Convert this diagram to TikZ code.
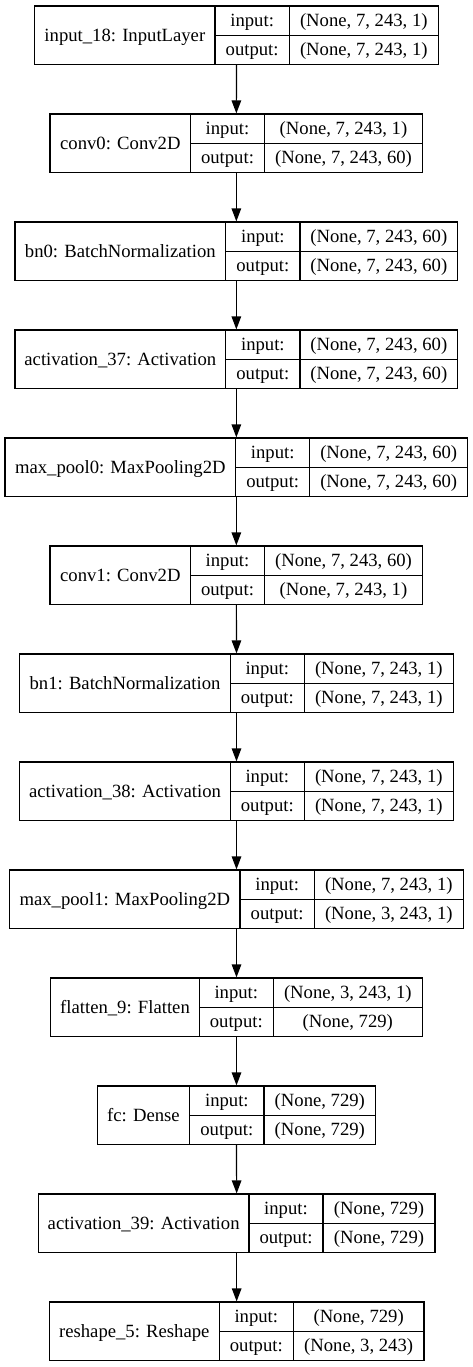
\documentclass[tikz,border=0pt]{standalone}
\usepackage{fontspec}
\setmainfont{Liberation Serif}
\usetikzlibrary{arrows.meta}
\tikzset{
  boxframe/.style={draw=black, line width=1.2pt, rectangle, inner sep=0pt},
  divider/.style={draw=black, line width=1.2pt},
  txt/.style={anchor=base, inner sep=0pt, font=\fontsize{18.67}{22}\selectfont},
  flow/.style={draw=black, line width=1.2pt, -{Triangle[length=13pt,width=9.5pt]}}
}
\newcommand{\bh}{58.5}
% #1 name, #2 top, #3 left, #4 d1, #5 d2, #6 right, #7 label, #8 input, #9 output
\newcommand{\layer}[9]{%
  \pgfmathsetmacro{\bw}{#6-#3}%
  \pgfmathsetmacro{\bx}{(#6+#3)/2}%
  \pgfmathsetmacro{\by}{#2+\bh/2}%
  \pgfmathsetmacro{\bb}{#2+\bh}%
  \node[boxframe, minimum width=\bw pt, minimum height=\bh pt] (#1) at (\bx,\by) {};
  \draw[divider] (#4,#2) -- (#4,\bb);
  \draw[divider] (#5,#2) -- (#5,\bb);
  \draw[divider] (#4,\by) -- (#6,\by);
  \node[txt] (#1-l) at ({(#3+#4)/2},{\by+6.5}) {#7};
  \node[txt] (#1-i) at ({(#4+#5)/2},{#2+\bh/4+6}) {input:};
  \node[txt] (#1-iv) at ({(#5+#6)/2},{#2+\bh/4+6}) {#8};
  \node[txt] (#1-o) at ({(#4+#5)/2},{#2+3*\bh/4+6}) {output:};
  \node[txt] (#1-ov) at ({(#5+#6)/2},{#2+3*\bh/4+6}) {#9};
}
\begin{document}
\begin{tikzpicture}[x=1pt,y=-1pt]
\useasboundingbox[fill=white] (0,0) rectangle (473,1367);
\layer{L1}{6}{34.7}{215}{289.3}{438.3}{input\_18: InputLayer}{(None, 7, 243, 1)}{(None, 7, 243, 1)}
\layer{L2}{114}{50}{190.7}{264.3}{422.7}{conv0: Conv2D}{(None, 7, 243, 1)}{(None, 7, 243, 60)}
\layer{L3}{222}{15}{225.7}{300}{457.7}{bn0: BatchNormalization}{(None, 7, 243, 60)}{(None, 7, 243, 60)}
\layer{L4}{330}{15}{225.7}{300}{457.7}{activation\_37: Activation}{(None, 7, 243, 60)}{(None, 7, 243, 60)}
\layer{L5}{438}{5}{235.7}{309.7}{467.7}{max\_pool0: MaxPooling2D}{(None, 7, 243, 60)}{(None, 7, 243, 60)}
\layer{L6}{546}{50}{190.7}{264.3}{422.7}{conv1: Conv2D}{(None, 7, 243, 60)}{(None, 7, 243, 1)}
\layer{L7}{654}{19.7}{230.3}{304.3}{453.3}{bn1: BatchNormalization}{(None, 7, 243, 1)}{(None, 7, 243, 1)}
\layer{L8}{762}{19.7}{230.3}{304.3}{453.3}{activation\_38: Activation}{(None, 7, 243, 1)}{(None, 7, 243, 1)}
\layer{L9}{870}{9.7}{240}{314.3}{463.3}{max\_pool1: MaxPooling2D}{(None, 7, 243, 1)}{(None, 3, 243, 1)}
\layer{L10}{978}{50.7}{199.3}{273.3}{422.3}{flatten\_9: Flatten}{(None, 3, 243, 1)}{(None, 729)}
\layer{L11}{1086}{97.3}{189.7}{264}{375.7}{fc: Dense}{(None, 729)}{(None, 729)}
\layer{L12}{1194}{38.3}{249}{323}{435}{activation\_39: Activation}{(None, 729)}{(None, 729)}
\layer{L13}{1302}{49.3}{219.3}{293.3}{424}{reshape\_5: Reshape}{(None, 729)}{(None, 3, 243)}
\foreach \a/\b in {L1/L2,L2/L3,L3/L4,L4/L5,L5/L6,L6/L7,L7/L8,L8/L9,L9/L10,L10/L11,L11/L12,L12/L13}
  \draw[flow] (\a.south) -- (\b.north);
\end{tikzpicture}
\end{document}
